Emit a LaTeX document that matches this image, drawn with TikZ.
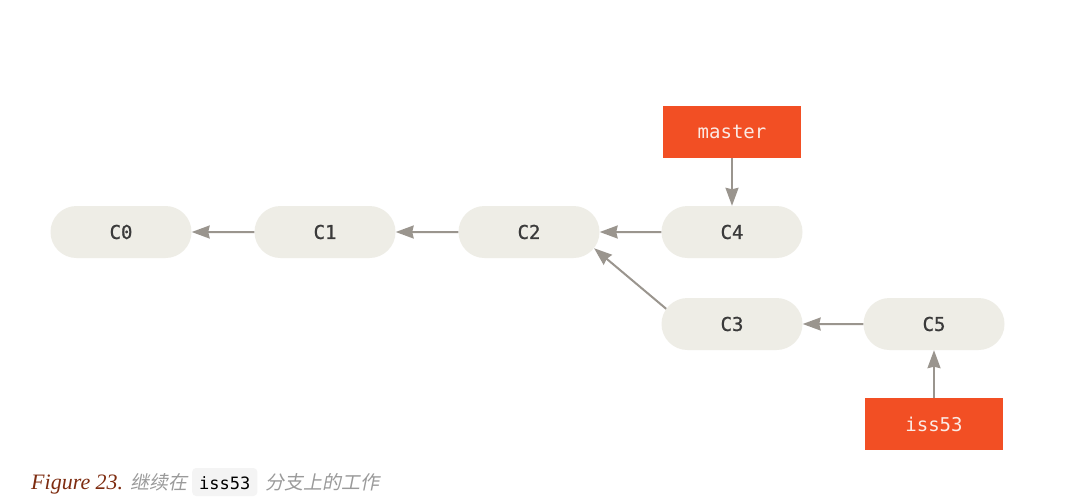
\documentclass[tikz,border=0pt]{standalone}
\usepackage{fontspec}
\setmainfont{Liberation Serif}
\setmonofont{DejaVu Sans Mono}
\newfontfamily\commitfont[FakeBold=1]{DejaVu Sans Mono}
\newfontfamily\cjk[FakeSlant=0.2]{Noto Sans CJK SC}
\usetikzlibrary{shapes.misc,arrows.meta}
\definecolor{commitfill}{HTML}{EEEDE6}
\definecolor{committext}{HTML}{3A3A3A}
\definecolor{branchfill}{HTML}{F24F24}
\definecolor{branchtext}{HTML}{FBEAE4}
\definecolor{arrowgray}{HTML}{9A958E}
\definecolor{figred}{HTML}{7E2C10}
\definecolor{cngray}{HTML}{9A9A9A}
\definecolor{codebg}{HTML}{F4F4F4}
\begin{document}
\begin{tikzpicture}[x=1pt,y=-1pt,
  commit/.style={rounded rectangle, fill=commitfill, minimum width=141pt, minimum height=52pt,
    inner sep=0pt, text=committext, font=\commitfont\fontsize{19}{19}\selectfont},
  branch/.style={rectangle, fill=branchfill, minimum width=138pt, minimum height=52pt,
    inner sep=0pt, text=branchtext, font=\ttfamily\fontsize{19}{19}\selectfont},
  link/.style={draw=arrowgray, line width=2pt, -{Stealth[length=18pt,width=13pt,inset=1.5pt]}},
  captext/.style={anchor=base west, inner sep=0pt}]
\useasboundingbox[fill=white] (0,0) rectangle (1081,499);
% commits
\node[commit] (C0) at (121,232) {C0};
\node[commit] (C1) at (325,232) {C1};
\node[commit] (C2) at (529,232) {C2};
\node[commit] (C4) at (732,232) {C4};
\node[commit] (C3) at (732,324) {C3};
\node[commit] (C5) at (934,324) {C5};
% branches
\node[branch] (master) at (732,132) {master};
\node[branch] (iss) at (934,424) {iss53};
% links
\draw[link] (C1) -- (C0);
\draw[link] (C2) -- (C1);
\draw[link] (C4) -- (C2);
\draw[link] (C5) -- (C3);
\draw[link] (C3.167) -- (C2.-14);
\draw[link] (master) -- (C4);
\draw[link] (iss) -- (C5);
% caption
\node[captext, text=figred, font=\itshape\fontsize{22}{22}\selectfont] (fig) at (31,489) {Figure 23.};
\node[captext, text=cngray, font=\cjk\fontsize{19}{19}\selectfont] (cn1) at (130,489) {继续在};
\node[anchor=base west, fill=codebg, rounded corners=4pt, inner xsep=7pt, inner ysep=0pt,
  text height=21pt, text depth=7pt, font=\ttfamily\fontsize{17}{17}\selectfont] (code) at (192,489) {iss53};
\node[captext, text=cngray, font=\cjk\fontsize{19}{19}\selectfont] (cn2) at (265,489) {分支上的工作};
\end{tikzpicture}
\end{document}
